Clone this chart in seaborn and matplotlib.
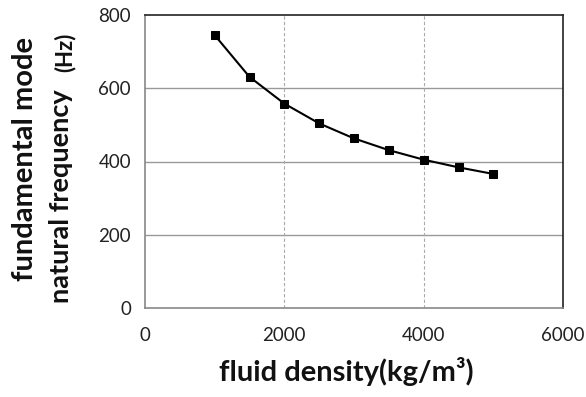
import matplotlib
matplotlib.use("Agg")
import matplotlib.pyplot as plt
import seaborn as sns
import pandas as pd
from matplotlib.ticker import MultipleLocator

density = [1000, 1500, 2000, 2500, 3000, 3500, 4000, 4500, 5000]
frequency = [745, 631, 558, 504, 463, 431, 405, 384, 366]
x_ticks = [0, 2000, 4000, 6000]
y_ticks = [0, 200, 400, 600, 800]

sns.set_style("white")
plt.rcParams['font.family'] = ['Lato', 'DejaVu Sans']

df = pd.DataFrame({"density": density, "frequency": frequency})

fig = plt.figure(figsize=(5.86, 3.97), dpi=100)
ax = fig.add_axes([145/586, 1-308/397, (563-145)/586, (308-15)/397])

sns.lineplot(data=df, x="density", y="frequency", ax=ax, color="black",
             marker="s", markersize=6, markeredgecolor="black", linewidth=1.5)

ax.set_xlim(0, 6000)
ax.set_ylim(0, 800)
ax.set_xticks(x_ticks)
ax.set_yticks(y_ticks)
ax.xaxis.set_minor_locator(MultipleLocator(400))
ax.yaxis.set_minor_locator(MultipleLocator(40))
ax.tick_params(axis='both', which='major', direction='out', length=5, width=1,
               color='#888888', labelsize=13.5, pad=5, labelcolor='#222222')
ax.tick_params(axis='both', which='minor', direction='in', length=4, width=0.8,
               color='#888888')
ax.tick_params(axis='x', which='major', pad=9)

for y in [200, 400, 600]:
    ax.axhline(y, color='#999999', linewidth=1, zorder=0)
for x in [2000, 4000]:
    ax.axvline(x, color='#aaaaaa', linewidth=0.8, linestyle=(0, (3, 2)), zorder=0)

for s in ['top', 'right']:
    ax.spines[s].set_color('#222222')
    ax.spines[s].set_linewidth(1.2)
for s in ['left', 'bottom']:
    ax.spines[s].set_color('#888888')
    ax.spines[s].set_linewidth(1.2)

ax.set_xlabel("")
ax.set_ylabel("")

fig.text(346/586, 1-372/397, "fluid density(kg/m³)", ha='center', va='center',
         fontsize=21, fontweight='bold', color='#111111')
fig.text(25/586, 1-159/397, "fundamental mode", ha='center', va='center',
         rotation=90, fontsize=21, fontweight='bold', color='#111111')
fig.text(61/586, 1-196/397, "natural frequency", ha='center', va='center',
         rotation=90, fontsize=19.5, fontweight='bold', color='#111111')
fig.text(65/586, 1-52/397, "(Hz)", ha='center', va='center',
         rotation=90, fontsize=16, fontweight='bold', color='#111111')

fig.savefig("out.png", dpi=100)
